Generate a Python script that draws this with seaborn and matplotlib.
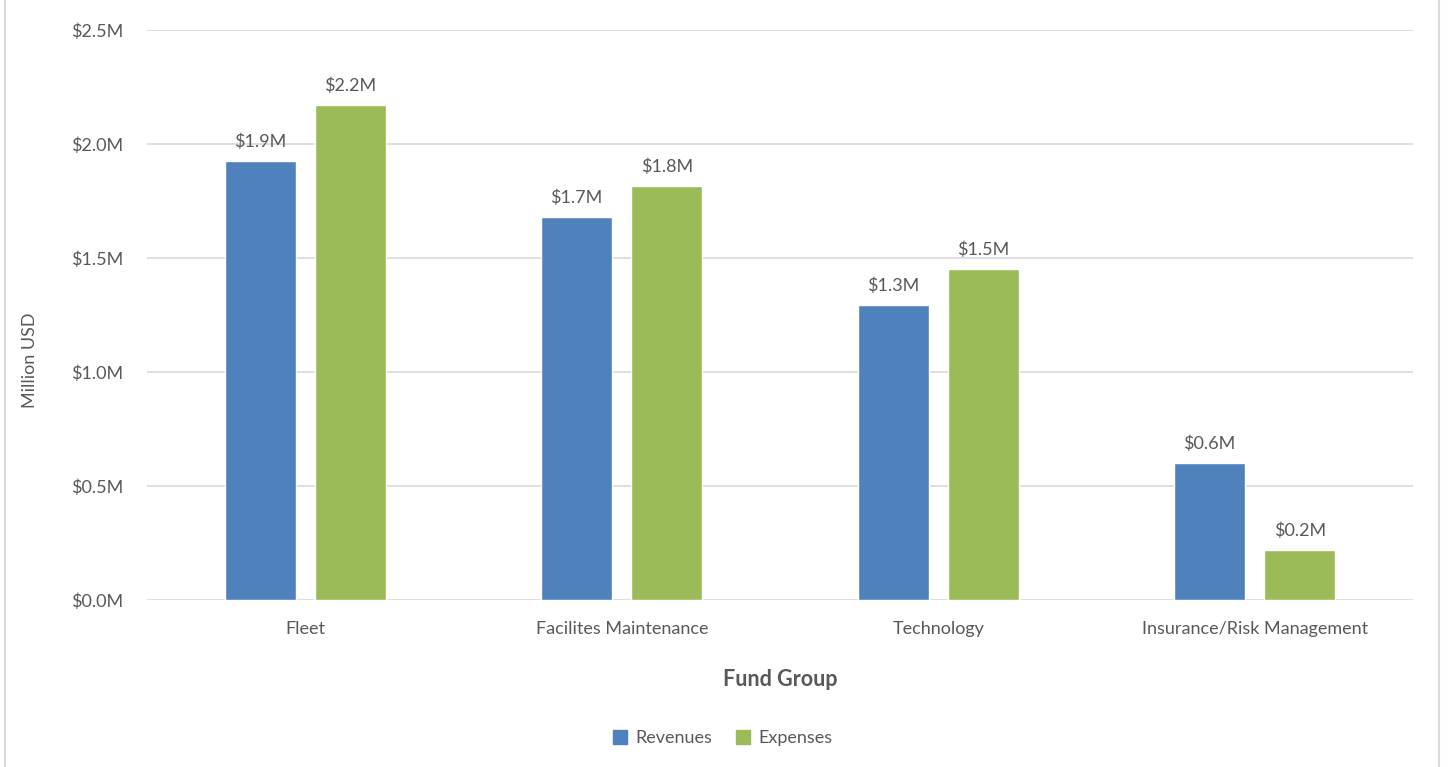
import pandas as pd
import matplotlib.pyplot as plt
import seaborn as sns
from matplotlib.lines import Line2D

categories = ["Fleet", "Facilites Maintenance", "Technology", "Insurance/Risk Management"]
revenues = [1.925, 1.68, 1.295, 0.60]
expenses = [2.17, 1.815, 1.452, 0.22]
series = ["Revenues", "Expenses"]
colors = ["#4F81BD", "#9BBB59"]
yticks = [0.0, 0.5, 1.0, 1.5, 2.0, 2.5]

df = pd.DataFrame({
    "Fund Group": categories * 2,
    "Value": revenues + expenses,
    "Series": [series[0]] * len(categories) + [series[1]] * len(categories),
})

sns.set_style("white")
plt.rcParams["font.family"] = ["Lato", "DejaVu Sans"]
text_color = "#595959"

fig = plt.figure(figsize=(14.48, 7.67), dpi=100)
ax = fig.add_axes([147 / 1448, 167 / 767, 1266 / 1448, 570 / 767])

sns.barplot(data=df, x="Fund Group", y="Value", hue="Series", palette=colors,
            width=0.57, gap=0.21, ax=ax, legend=False, saturation=1)

for cont in ax.containers:
    ax.bar_label(cont, labels=[f"${v:.1f}M" for v in cont.datavalues],
                 padding=8, fontsize=13, color=text_color)

ax.set_ylim(0, 2.5)
ax.set_yticks(yticks)
ax.set_yticklabels([f"${t:.1f}M" for t in yticks])
ax.yaxis.grid(True, color="#D9D9D9", linewidth=1.2)
ax.set_axisbelow(True)
for s in ax.spines.values():
    s.set_visible(False)
ax.tick_params(axis="both", length=0, labelsize=13, labelcolor=text_color)
ax.tick_params(axis="y", pad=17)
ax.tick_params(axis="x", pad=15)
ax.set_xlim(-0.5, 3.5)

ax.set_xlabel("Fund Group", fontsize=15.5, fontweight="bold", color=text_color, labelpad=23)
ax.set_ylabel("Million USD", fontsize=13, color=text_color)
ax.yaxis.set_label_coords(-0.086, 0.421)

handles = [Line2D([0], [0], marker="s", linestyle="", markersize=10,
                  markerfacecolor=c, markeredgecolor=c) for c in colors]
fig.legend(handles, series, loc="center", bbox_to_anchor=(723 / 1448, 1 - 738 / 767),
           ncol=2, frameon=False, fontsize=13, labelcolor=text_color,
           handlelength=0.8, handletextpad=0.45, columnspacing=1.3)

# chart border (left and right edges)
fig.add_artist(Line2D([5 / 1448, 5 / 1448], [0, 1], color="#D9D9D9", linewidth=1.5))
fig.add_artist(Line2D([1439 / 1448, 1439 / 1448], [0, 1], color="#D9D9D9", linewidth=1.5))

fig.savefig("out.png", dpi=100)
